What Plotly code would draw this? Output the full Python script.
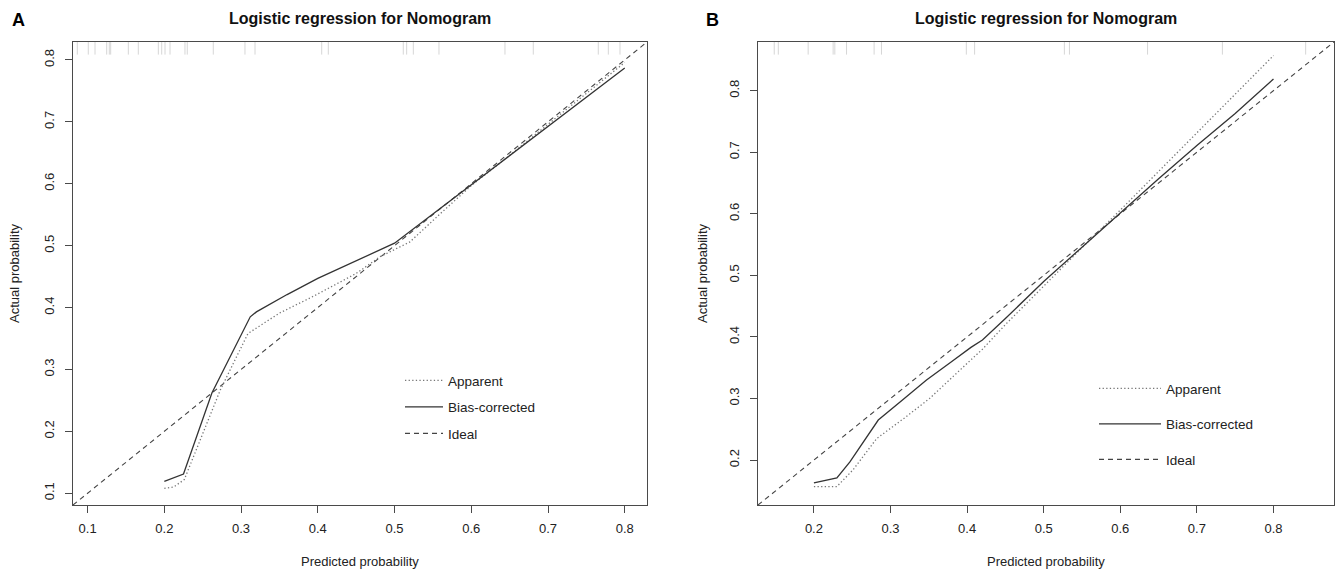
import plotly.graph_objects as go

# ---------------- data ----------------
# Panel A
A_LIM = [0.081, 0.829]
A_TICKS = [0.1, 0.2, 0.3, 0.4, 0.5, 0.6, 0.7, 0.8]
A_rug = [0.0866, 0.1009, 0.1097, 0.1249, 0.1283, 0.1301, 0.1531, 0.1661, 0.1922,
         0.1966, 0.2009, 0.2074, 0.2269, 0.2299, 0.2638, 0.3051, 0.3182, 0.4051,
         0.4137, 0.5114, 0.5158, 0.5245, 0.5579, 0.6439, 0.6808, 0.7655, 0.7786, 0.7938]
A_app_x = [0.200, 0.212, 0.226, 0.273, 0.309, 0.350, 0.394, 0.450, 0.481, 0.520, 0.560, 0.600, 0.650, 0.700, 0.750, 0.800]
A_app_y = [0.108, 0.110, 0.122, 0.267, 0.358, 0.391, 0.418, 0.455, 0.482, 0.506, 0.552, 0.597, 0.646, 0.696, 0.746, 0.796]
A_bias_x = [0.200, 0.225, 0.262, 0.312, 0.320, 0.360, 0.400, 0.450, 0.500, 0.550, 0.600, 0.650, 0.700, 0.750, 0.800]
A_bias_y = [0.119, 0.131, 0.262, 0.385, 0.393, 0.421, 0.447, 0.476, 0.504, 0.551, 0.598, 0.645, 0.693, 0.740, 0.787]

# Panel B
B_LIM = [0.127, 0.879]
B_TICKS = [0.2, 0.3, 0.4, 0.5, 0.6, 0.7, 0.8]
B_rug = [0.1482, 0.1535, 0.1925, 0.2251, 0.2273, 0.2426, 0.2786, 0.2882, 0.3990,
         0.4098, 0.5270, 0.5336, 0.6356, 0.7333, 0.8420]
B_app_x = [0.200, 0.230, 0.251, 0.282, 0.320, 0.351, 0.400, 0.420, 0.450, 0.500, 0.550, 0.600, 0.650, 0.700, 0.750, 0.800]
B_app_y = [0.157, 0.157, 0.184, 0.235, 0.270, 0.300, 0.357, 0.380, 0.420, 0.483, 0.545, 0.606, 0.669, 0.731, 0.794, 0.857]
B_bias_x = [0.200, 0.230, 0.247, 0.284, 0.316, 0.347, 0.380, 0.405, 0.420, 0.450, 0.500, 0.550, 0.600, 0.650, 0.700, 0.750, 0.800]
B_bias_y = [0.163, 0.171, 0.197, 0.265, 0.298, 0.330, 0.360, 0.383, 0.395, 0.430, 0.490, 0.546, 0.602, 0.657, 0.711, 0.763, 0.819]

SERIES = ["Apparent", "Bias-corrected", "Ideal"]
TITLE = "Logistic regression for Nomogram"
XLAB = "Predicted probability"
YLAB = "Actual probability"

# ---------------- layout helpers ----------------
W, H = 1339, 570
FONT = "Liberation Sans, Arial, sans-serif"
LINE = "#333333"
BOX = "#4a4a4a"
TXT = "#222222"


def fx(p):
    return p / W


def fy(p):
    return 1 - p / H


fig = go.Figure()


def add_panel(xa, ya, leg, lim, rug, ax, ay, bx, by):
    fig.add_trace(go.Scatter(
        x=rug, y=[lim[1]] * len(rug), mode="markers", xaxis=xa, yaxis=ya,
        marker=dict(symbol="line-ns", size=18, color="#d6d6d6",
                    line=dict(width=1, color="#d6d6d6")),
        cliponaxis=True, showlegend=False, hoverinfo="skip"))
    fig.add_trace(go.Scatter(
        x=lim, y=lim, mode="lines", name=SERIES[2], xaxis=xa, yaxis=ya,
        line=dict(color="#444444", width=1.1, dash="5px,4px"),
        legend=leg, legendgroup=leg + "c", legendrank=3))
    fig.add_trace(go.Scatter(
        x=ax, y=ay, mode="lines", name=SERIES[0], xaxis=xa, yaxis=ya,
        line=dict(color="#777777", width=1.3, dash="1.3px,2.3px"),
        legend=leg, legendgroup=leg + "a", legendrank=1))
    fig.add_trace(go.Scatter(
        x=bx, y=by, mode="lines", name=SERIES[1], xaxis=xa, yaxis=ya,
        line=dict(color=LINE, width=1.3),
        legend=leg, legendgroup=leg + "b", legendrank=2))


add_panel("x", "y", "legend", A_LIM, A_rug, A_app_x, A_app_y, A_bias_x, A_bias_y)
add_panel("x2", "y2", "legend2", B_LIM, B_rug, B_app_x, B_app_y, B_bias_x, B_bias_y)


def axis(domain, rng, ticks, anchor, vertical=False):
    d = dict(domain=domain, range=rng, tickvals=ticks,
             ticktext=["%.1f" % t for t in ticks], anchor=anchor,
             ticks="outside", ticklen=7, tickcolor=BOX, tickwidth=1,
             showline=True, mirror=True, linecolor=BOX, linewidth=1,
             showgrid=False, zeroline=False, fixedrange=True,
             tickfont=dict(family=FONT, size=13, color=TXT))
    if vertical:
        d["tickangle"] = -90
        d["ticklabelstandoff"] = 6
    else:
        d["ticklabelstandoff"] = 4
    return d


YDOM = [fy(505), fy(42)]
fig.update_layout(
    width=W, height=H,
    margin=dict(l=0, r=0, t=0, b=0),
    paper_bgcolor="white", plot_bgcolor="white",
    font=dict(family=FONT, size=13, color=TXT),
    xaxis=axis([fx(73), fx(647)], A_LIM, A_TICKS, "y"),
    yaxis=axis(YDOM, A_LIM, A_TICKS, "x", vertical=True),
    xaxis2=axis([fx(758), fx(1334)], B_LIM, B_TICKS, "y2"),
    yaxis2=axis(YDOM, B_LIM, B_TICKS, "x2", vertical=True),
    legend=dict(x=fx(400), y=fy(365), xanchor="left", yanchor="top",
                bgcolor="rgba(0,0,0,0)", borderwidth=0, tracegroupgap=6,
                font=dict(family=FONT, size=13.5, color=TXT), itemwidth=38),
    legend2=dict(x=fx(1094), y=fy(373), xanchor="left", yanchor="top",
                 bgcolor="rgba(0,0,0,0)", borderwidth=0, tracegroupgap=15,
                 font=dict(family=FONT, size=13.5, color=TXT), itemwidth=62),
    showlegend=True,
)

ann = []
for cx, letter, lx in [((73 + 647) / 2, "A", 18), ((758 + 1334) / 2, "B", 712)]:
    ann.append(dict(x=fx(cx), y=fy(19), xref="paper", yref="paper", text="<b>%s</b>" % TITLE,
                    showarrow=False, xanchor="center", yanchor="middle",
                    font=dict(family=FONT, size=16, color="#111111")))
    ann.append(dict(x=fx(lx), y=fy(20), xref="paper", yref="paper", text="<b>%s</b>" % letter,
                    showarrow=False, xanchor="center", yanchor="middle",
                    font=dict(family=FONT, size=18, color="#000000")))
    ann.append(dict(x=fx(cx), y=fy(561), xref="paper", yref="paper", text=XLAB,
                    showarrow=False, xanchor="center", yanchor="middle",
                    font=dict(family=FONT, size=13, color=TXT)))
ann.append(dict(x=fx(15), y=fy(274), xref="paper", yref="paper", text=YLAB, textangle=-90,
                showarrow=False, xanchor="center", yanchor="middle",
                font=dict(family=FONT, size=13, color=TXT)))
ann.append(dict(x=fx(703), y=fy(274), xref="paper", yref="paper", text=YLAB, textangle=-90,
                showarrow=False, xanchor="center", yanchor="middle",
                font=dict(family=FONT, size=13, color=TXT)))
fig.update_layout(annotations=ann)

fig.write_html("out.html")
